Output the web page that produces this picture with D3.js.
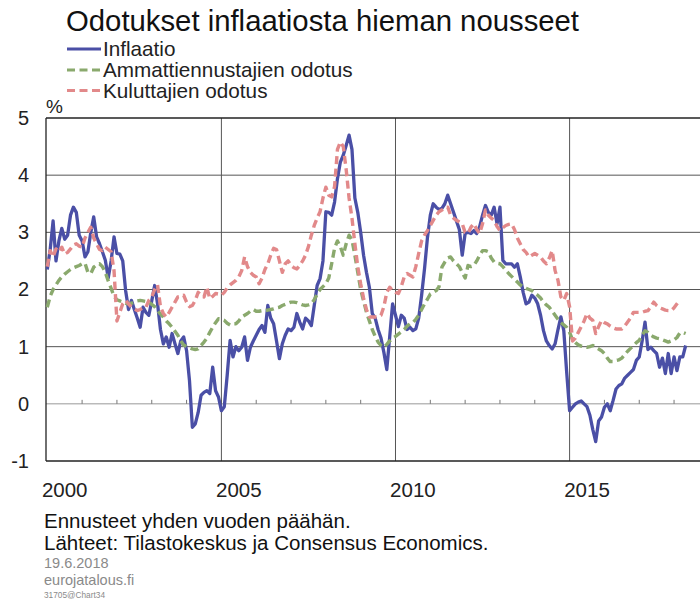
<!DOCTYPE html>
<html><head><meta charset="utf-8">
<script src="https://cdn.jsdelivr.net/npm/d3@7"></script>
<style>
body{margin:0;background:#fff}
svg{display:block}
text{font-family:"Liberation Sans",Arial,sans-serif}
</style>
</head><body>
<svg id="c" width="700" height="601"></svg>
<script>
// Monthly series starting January 2000
const startYear = 2000;
const inflation = [
 2.35,2.7,3.2,2.5,2.85,3.07,2.88,2.95,3.3,3.44,3.35,2.95,
 2.85,2.57,2.66,3.0,3.27,2.92,2.8,2.66,2.51,2.2,2.5,2.92,
 2.63,2.62,2.5,1.98,1.65,1.81,1.65,1.5,1.34,1.69,1.6,1.55,
 1.8,2.07,1.75,1.3,1.05,1.17,0.99,1.23,1.05,0.88,1.1,1.17,
 0.93,0.41,-0.41,-0.35,-0.15,0.15,0.2,0.23,0.18,0.64,0.23,0.12,
 -0.12,-0.05,0.5,1.11,0.82,1.0,0.93,0.99,1.17,0.76,0.99,1.1,
 1.2,1.3,1.37,1.25,1.72,1.5,1.4,1.1,0.79,1.05,1.2,1.31,
 1.28,1.34,1.58,1.43,1.31,1.5,1.45,1.37,1.72,2.07,2.19,2.5,
 3.36,3.35,3.3,3.53,3.94,4.23,4.35,4.52,4.70,4.45,3.6,3.35,
 3.0,2.6,2.3,2.04,1.58,1.5,1.3,1.15,0.9,0.6,1.17,1.75,
 1.55,1.35,1.55,1.5,1.3,1.34,1.28,1.31,1.5,1.9,2.36,2.9,
 3.3,3.5,3.44,3.4,3.42,3.5,3.65,3.5,3.35,3.2,3.05,2.6,
 2.98,3.0,2.98,3.03,2.98,3.1,3.3,3.47,3.35,3.3,3.44,3.15,
 3.44,2.51,2.45,2.45,2.45,2.39,2.45,2.22,1.95,1.75,1.78,1.9,
 1.85,1.75,1.55,1.28,1.1,1.02,0.96,1.05,1.3,1.52,1.28,0.55,
 -0.12,-0.06,0.0,0.03,0.05,0.0,-0.05,-0.2,-0.45,-0.66,-0.3,-0.23,
 -0.06,0.0,-0.12,0.06,0.26,0.32,0.35,0.45,0.5,0.55,0.6,0.76,
 0.82,1.1,1.43,0.95,0.99,0.93,0.88,0.64,0.8,0.53,0.88,0.53,
 0.82,0.58,0.82,0.82,1.02
];
const proForecast = [
 1.69,1.88,2.0,2.08,2.16,2.22,2.27,2.31,2.35,2.38,2.4,2.42,
 2.45,2.46,2.3,2.28,2.39,2.43,2.45,2.4,2.3,2.15,2.02,1.88,
 1.82,1.8,1.78,1.76,1.75,1.76,1.78,1.8,1.81,1.8,1.79,1.78,
 1.74,1.7,1.63,1.57,1.52,1.45,1.4,1.34,1.27,1.2,1.1,1.03,
 1.0,0.98,0.96,0.95,0.96,1.02,1.08,1.15,1.25,1.34,1.42,1.49,
 1.48,1.46,1.41,1.38,1.4,1.4,1.45,1.52,1.55,1.58,1.62,1.65,
 1.62,1.62,1.63,1.63,1.64,1.65,1.66,1.68,1.69,1.72,1.74,1.76,
 1.78,1.78,1.77,1.75,1.73,1.72,1.73,1.75,1.82,1.92,2.0,2.05,
 2.1,2.2,2.45,2.72,2.85,2.75,2.6,2.8,2.95,2.87,2.6,2.3,
 2.0,1.8,1.6,1.45,1.3,1.18,1.08,1.02,0.99,1.04,1.1,1.15,
 1.18,1.22,1.26,1.3,1.36,1.4,1.42,1.48,1.55,1.65,1.75,1.83,
 1.92,1.95,1.98,2.05,2.39,2.48,2.55,2.57,2.5,2.45,2.4,2.3,
 2.2,2.42,2.4,2.42,2.5,2.6,2.68,2.68,2.66,2.55,2.48,2.46,
 2.45,2.4,2.34,2.28,2.23,2.18,2.13,2.08,2.05,2.02,2.0,1.98,
 1.94,1.9,1.85,1.78,1.73,1.69,1.62,1.55,1.48,1.42,1.38,1.34,
 1.25,1.12,1.07,1.03,1.01,1.0,0.99,1.0,1.02,0.99,0.96,0.93,
 0.88,0.8,0.74,0.74,0.76,0.77,0.8,0.86,0.92,0.97,1.02,1.07,
 1.11,1.2,1.28,1.25,1.2,1.17,1.15,1.14,1.12,1.1,1.08,1.1,
 1.12,1.16,1.24,1.25,1.23
];
const consumerExp = [
 2.4,2.68,2.57,2.71,2.66,2.74,2.62,2.65,2.71,2.78,2.8,2.76,
 2.74,2.9,3.0,3.09,2.9,2.8,2.7,2.68,2.74,2.7,2.66,2.33,
 1.45,1.6,1.75,1.81,1.75,1.69,1.66,1.63,1.65,1.68,1.69,1.81,
 1.87,2.0,2.08,1.7,1.58,1.52,1.6,1.69,1.78,1.87,1.88,1.9,
 1.78,1.7,1.72,1.81,1.95,1.9,1.87,2.04,1.84,1.88,1.93,1.92,
 1.9,1.95,2.03,2.08,2.12,2.16,2.22,2.33,2.57,2.4,2.3,2.25,
 2.22,2.1,2.2,2.35,2.45,2.6,2.72,2.7,2.5,2.3,2.45,2.5,
 2.42,2.38,2.36,2.42,2.5,2.6,2.75,2.95,3.12,3.25,3.36,3.6,
 3.79,3.65,3.62,3.8,4.45,4.58,4.5,4.1,3.6,3.25,2.8,2.4,
 2.1,1.85,1.65,1.52,1.52,1.52,1.52,1.55,1.7,1.95,2.04,1.98,
 1.95,1.93,2.05,2.22,2.28,2.25,2.22,2.4,2.63,2.85,2.95,3.03,
 3.12,3.21,3.3,3.36,3.39,3.42,3.44,3.3,3.25,3.21,3.18,3.15,
 3.0,2.98,3.09,3.15,3.05,2.98,3.15,3.39,3.3,3.25,3.21,3.1,
 3.03,3.08,3.12,3.14,3.15,3.05,2.9,2.8,2.7,2.65,2.57,2.6,
 2.63,2.6,2.57,2.5,2.45,2.55,2.68,2.33,2.16,1.87,1.81,1.93,
 1.7,1.1,1.15,1.25,1.35,1.45,1.58,1.5,1.46,1.23,1.35,1.46,
 1.42,1.40,1.36,1.33,1.31,1.31,1.31,1.36,1.43,1.5,1.6,1.6,
 1.6,1.6,1.62,1.63,1.7,1.78,1.72,1.68,1.66,1.64,1.63,1.63,
 1.68,1.75,1.81
];
const yTicks = [-1,0,1,2,3,4,5];
const gridValues = [1,2,3,4];
const xLabelYears = [2000,2005,2010,2015];
const gridYears = [2005,2010,2015];
const tickYears = d3.range(2001,2019);
const seriesNames = ["Inflaatio","Ammattiennustajien odotus","Kuluttajien odotus"];
const seriesColors = ["#4a4fa6","#8aa96d","#e2898a"];
const title = "Odotukset inflaatiosta hieman nousseet";
const notes = ["Ennusteet yhden vuoden päähän.","Lähteet: Tilastokeskus ja Consensus Economics."];
const credits = ["19.6.2018","eurojatalous.fi","31705@Chart34"];

const svg = d3.select("#c");
const L=46, R=700, T=118, B=461;
const x = d3.scaleLinear().domain([1999.963, 2018.745]).range([L,R]);
const y = d3.scaleLinear().domain([-1,5]).range([B,T]);

// title
svg.append("text").attr("x",66).attr("y",31).attr("font-size",29.3).attr("fill","#111").text(title);

// legend
const legY=[49,70,90.5];
seriesNames.forEach((n,i)=>{
  const ln = svg.append("line").attr("x1",67).attr("x2",101).attr("y1",legY[i]).attr("y2",legY[i])
    .attr("stroke",seriesColors[i]).attr("stroke-width",3.2);
  if(i>0) ln.attr("stroke-dasharray","8,4.5");
  svg.append("text").attr("x",103).attr("y",legY[i]+7).attr("font-size",20.7).attr("fill","#222").text(n);
});
svg.append("text").attr("x",46).attr("y",113).attr("font-size",19).attr("fill","#222").text("%");

// grid
const g = svg.append("g");
g.selectAll(".hg").data(gridValues).join("line")
  .attr("x1",L).attr("x2",R).attr("y1",d=>y(d)).attr("y2",d=>y(d))
  .attr("stroke","#555").attr("stroke-width",1);
g.append("line").attr("x1",L).attr("x2",R).attr("y1",y(0)).attr("y2",y(0)).attr("stroke","#999").attr("stroke-width",1);
g.selectAll(".tk").data(tickYears).join("line")
  .attr("x1",d=>x(d)).attr("x2",d=>x(d)).attr("y1",y(0)).attr("y2",y(0)-4)
  .attr("stroke","#777").attr("stroke-width",1);
g.selectAll(".vg").data(gridYears).join("line")
  .attr("x1",d=>x(d)).attr("x2",d=>x(d)).attr("y1",T).attr("y2",B)
  .attr("stroke","#555").attr("stroke-width",1);
g.append("line").attr("x1",L).attr("x2",R).attr("y1",T).attr("y2",T).attr("stroke","#222").attr("stroke-width",1.3);
g.append("line").attr("x1",L).attr("x2",R).attr("y1",B).attr("y2",B).attr("stroke","#222").attr("stroke-width",1.3);
g.append("line").attr("x1",L).attr("x2",L).attr("y1",T).attr("y2",B).attr("stroke","#222").attr("stroke-width",1.3);

// y axis labels
const ya = svg.append("g").attr("transform",`translate(${L},0)`)
  .call(d3.axisLeft(y).tickValues(yTicks).tickSize(0).tickPadding(17).tickFormat(d=>String(d)));
ya.select(".domain").remove();
ya.selectAll("text").attr("font-size",20).attr("fill","#222").attr("font-family","Liberation Sans, Arial, sans-serif");

// x labels (centered on mid-year)
svg.selectAll(".xl").data(xLabelYears).join("text")
  .attr("x",d=>x(d+0.5)).attr("y",497).attr("text-anchor","middle")
  .attr("font-size",20.5).attr("fill","#222").text(d=>d);

// series
const line = d3.line().x((d,i)=>x(startYear+i/12)).y(d=>y(d));
const sets=[inflation,proForecast,consumerExp];
sets.forEach((s,i)=>{
  const p = svg.append("path").datum(s).attr("d",line).attr("fill","none")
    .attr("stroke",seriesColors[i]).attr("stroke-width",i===0?3.3:3.4)
    .attr("stroke-linejoin","round");
  if(i>0) p.attr("stroke-dasharray","8,4.5");
});

// footer
svg.append("text").attr("x",44).attr("y",528).attr("font-size",20.5).attr("fill","#111").text(notes[0]);
svg.append("text").attr("x",44).attr("y",550).attr("font-size",20.5).attr("fill","#111").text(notes[1]);
svg.append("text").attr("x",44).attr("y",568).attr("font-size",14.5).attr("fill","#8a8a8a").text(credits[0]);
svg.append("text").attr("x",44).attr("y",585).attr("font-size",14.5).attr("fill","#8a8a8a").text(credits[1]);
svg.append("text").attr("x",44).attr("y",598).attr("font-size",8.3).attr("fill","#8a8a8a").text(credits[2]);
</script>
</body></html>
